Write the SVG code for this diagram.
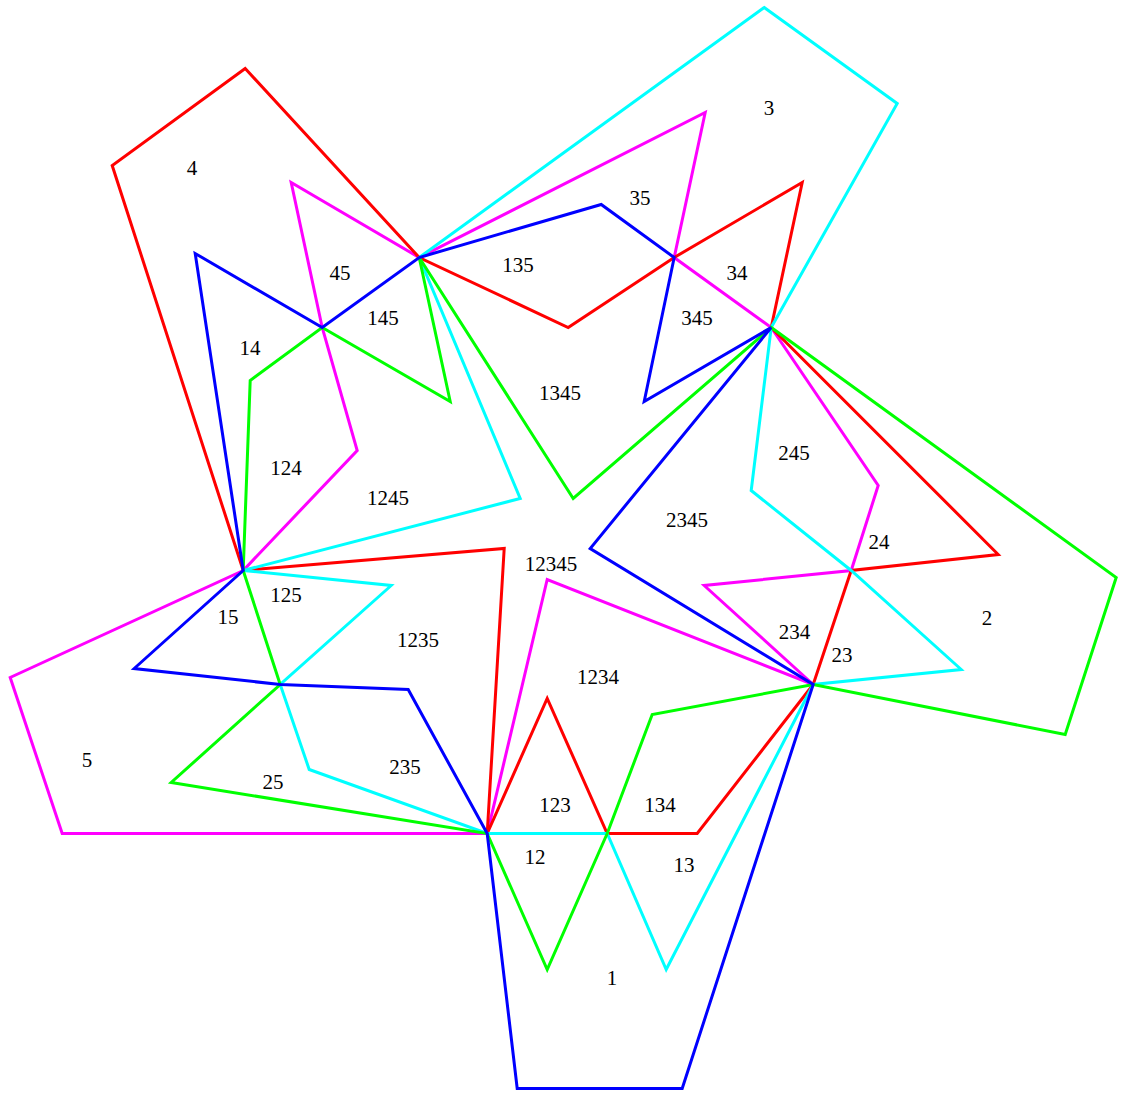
<svg xmlns="http://www.w3.org/2000/svg" width="1124" height="1094" viewBox="0 0 1124 1094">
<style>
.s{fill:none;stroke-width:3;stroke-linejoin:miter}
text{font-family:"Liberation Serif","Times New Roman",serif;font-size:21px;fill:#000;text-anchor:middle}
</style>
<rect width="1124" height="1094" fill="#fff"/>
<g id="connectors" transform="translate(0.2 0.5)">
<polygon id="set5" class="s" stroke="#ff00ff" points="10,677 62,833 487,833 547,579 813,684 704,585 851,570 878,485 771,327 674,257 705,112 419,257 291,182 322,327 357,450 243,570"/>
<polygon id="set4" class="s" stroke="#ff0000" points="245,68 112,165 243,570 504,548 487,833 547,698 607,833 697,833 813,684 851,570 998,554 771,327 802,182 674,257 568,327 419,257"/>
<polygon id="set3" class="s" stroke="#00ffff" points="764,7 897,103 771,327 751,490 851,570 961,669 813,684 666,969 607,833 487,833 309,769 280,684 391,585 243,570 520,498 419,257"/>
<polygon id="set2" class="s" stroke="#00ff00" points="1116,577 1065,734 813,684 652,714 607,833 547,969 487,833 171,782 280,684 243,570 250,380 322,327 450,401 419,257 573,498 771,327"/>
<polygon id="set1" class="s" stroke="#0000ff" points="487,833 517,1088 682,1088 813,684 590,548 771,327 644,401 674,257 601,204 419,257 322,327 195,253 243,570 134,668 280,684 408,689"/>
</g>
<g id="labels" transform="translate(0 1)">
<text x="612" y="984">1</text>
<text x="987" y="624">2</text>
<text x="769" y="114">3</text>
<text x="192" y="174">4</text>
<text x="87" y="766">5</text>
<text x="535" y="863">12</text>
<text x="684" y="871">13</text>
<text x="250" y="354">14</text>
<text x="228" y="623">15</text>
<text x="842" y="661">23</text>
<text x="879" y="548">24</text>
<text x="273" y="788">25</text>
<text x="737" y="279">34</text>
<text x="640" y="204">35</text>
<text x="340" y="279">45</text>
<text x="555" y="811">123</text>
<text x="660" y="811">134</text>
<text x="518" y="271">135</text>
<text x="286" y="474">124</text>
<text x="286" y="601">125</text>
<text x="383" y="324">145</text>
<text x="794.5" y="638">234</text>
<text x="405" y="773">235</text>
<text x="794" y="459">245</text>
<text x="697" y="324">345</text>
<text x="598" y="683">1234</text>
<text x="418" y="646">1235</text>
<text x="388" y="504">1245</text>
<text x="560" y="399">1345</text>
<text x="687" y="526">2345</text>
<text x="551" y="570">12345</text>
</g>
</svg>
